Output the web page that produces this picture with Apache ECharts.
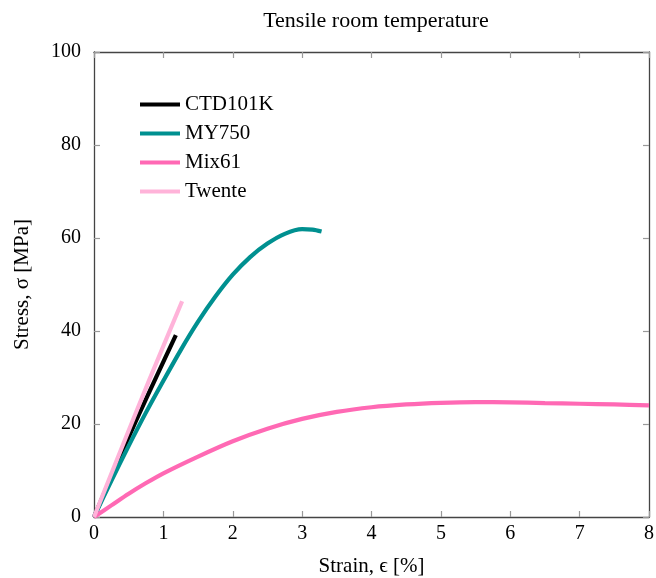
<!DOCTYPE html>
<html>
<head>
<meta charset="utf-8">
<script src="https://cdn.jsdelivr.net/npm/echarts@6/dist/echarts.min.js"></script>
<style>html,body{margin:0;padding:0;background:#fff}#c{width:656px;height:578px}</style>
</head>
<body>
<div id="c"></div>
<script>
var seriesNames = ['CTD101K', 'MY750', 'Mix61', 'Twente'];
var ctd101k = [[0,0],[0.3,10.4],[0.6,20.5],[0.9,30.2],[1.18,39.1]];
var my750 = [[0,0],[0.25,7.8],[0.5,15.3],[0.75,22.5],[1.0,29.3],[1.25,35.9],[1.5,42.0],[1.75,47.4],[2.0,52.1],[2.25,55.9],[2.5,58.8],[2.75,60.9],[3.0,61.9],[3.15,61.8],[3.28,61.4]];
var mix61 = [[0,0],[0.25,2.5],[0.5,5.0],[0.75,7.3],[1.0,9.4],[1.5,13.0],[2.0,16.3],[2.5,19.0],[3.0,21.1],[3.5,22.6],[4.0,23.6],[4.5,24.2],[5.0,24.55],[5.5,24.7],[6.0,24.65],[6.5,24.5],[7.0,24.35],[7.5,24.2],[8.0,24.0]];
var twente = [[0,0],[0.4,14.9],[0.8,29.6],[1.27,46.4]];
var xTicks = [0,1,2,3,4,5,6,7,8];
var yTicks = [0,20,40,60,80,100];
var colors = ['#000000', '#009090', '#ff69b4', '#ffb3d9'];

var font = '"Liberation Serif", "DejaVu Serif", serif';
var chart = echarts.init(document.getElementById('c'));
var axisLine = {show: true, onZero: false, lineStyle: {color: '#444', width: 1.3}};
var tick = {show: true, inside: true, length: 6, lineStyle: {color: '#999', width: 1.2}};
var dataMap = {'CTD101K': ctd101k, 'MY750': my750, 'Mix61': mix61, 'Twente': twente};
chart.setOption({
  animation: false,
  title: {text: 'Tensile room temperature', left: 371, textAlign: 'center', top: 5,
    textStyle: {fontFamily: font, fontSize: 22, fontWeight: 'normal', color: '#000'}},
  legend: {
    data: seriesNames, orient: 'vertical', left: 135, top: 89, itemGap: 8,
    icon: 'rect', itemWidth: 40, itemHeight: 4,
    textStyle: {fontFamily: font, fontSize: 21, color: '#000', lineHeight: 21}
  },
  grid: {left: 94, right: 7, top: 52, bottom: 61, outerBoundsMode: 'none', containLabel: false},
  xAxis: [{
    type: 'value', min: xTicks[0], max: xTicks[xTicks.length-1], interval: 1,
    name: 'Strain, \u03f5 [%]', nameLocation: 'middle', nameGap: 39,
    nameTextStyle: {fontFamily: font, fontSize: 21, color: '#000'},
    axisLine: axisLine, axisTick: tick, splitLine: {show: false},
    axisLabel: {fontFamily: font, fontSize: 20, color: '#000', margin: 7}
  }, {
    type: 'value', position: 'top', min: 0, max: 8, interval: 1,
    axisLine: axisLine, axisTick: tick, splitLine: {show: false}, axisLabel: {show: false}
  }],
  yAxis: [{
    type: 'value', min: yTicks[0], max: yTicks[yTicks.length-1], interval: 20,
    name: 'Stress, \u03c3 [MPa]', nameLocation: 'middle', nameGap: 61,
    nameTextStyle: {fontFamily: font, fontSize: 21, color: '#000'},
    axisLine: axisLine, axisTick: tick, splitLine: {show: false},
    axisLabel: {fontFamily: font, fontSize: 20, color: '#000', margin: 13}
  }, {
    type: 'value', position: 'right', min: 0, max: 100, interval: 20,
    axisLine: axisLine, axisTick: tick, splitLine: {show: false}, axisLabel: {show: false}
  }],
  series: seriesNames.map(function (n, i) {
    return {
      name: n, type: 'line', data: dataMap[n], smooth: 0.3,
      showSymbol: false, symbol: 'none', clip: true,
      lineStyle: {color: colors[i], width: 4.2}, itemStyle: {color: colors[i]}
    };
  })
});
</script>
</body>
</html>
